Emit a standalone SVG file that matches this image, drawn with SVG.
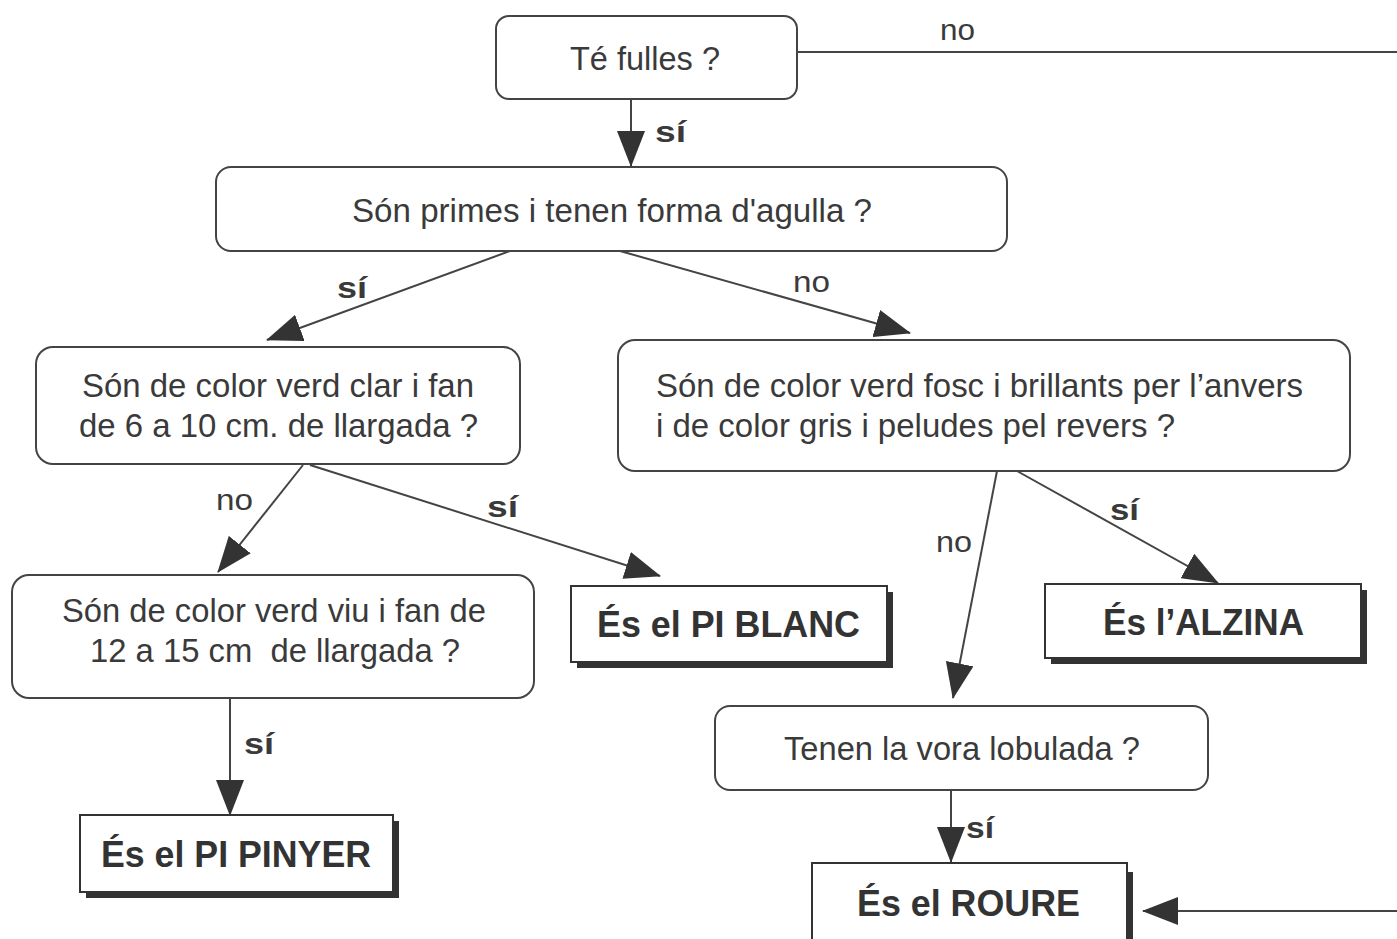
<svg xmlns="http://www.w3.org/2000/svg" width="1397" height="939" viewBox="0 0 1397 939">
<defs>
<style>
.q{fill:#fff;stroke:#444;stroke-width:2}
.a{fill:#fff;stroke:#333;stroke-width:2}
.sh{fill:#333}
.t{font-family:"Liberation Sans",Arial,sans-serif;font-size:33px;fill:#3a3a3a}
.b{font-family:"Liberation Sans",Arial,sans-serif;font-size:36px;font-weight:bold;fill:#333}
.l{font-family:"Liberation Sans",Arial,sans-serif;font-size:30px;fill:#3a3a3a}
.lb{font-family:"Liberation Sans",Arial,sans-serif;font-size:30px;font-weight:bold;fill:#3a3a3a}
.c{fill:none;stroke:#444;stroke-width:2}
</style>
<marker id="ah" viewBox="0 0 36 28" refX="35" refY="14" markerWidth="36" markerHeight="28" markerUnits="userSpaceOnUse" orient="auto">
<path d="M0,0 L36,14 L0,28 Z" fill="#333"/>
</marker>
</defs>
<rect width="1397" height="939" fill="#fff"/>

<g id="connectors">
<line class="c" x1="631" y1="99" x2="631" y2="166" marker-end="url(#ah)"/>
<line class="c" x1="797" y1="52" x2="1397" y2="52"/>
<line class="c" x1="510" y1="251" x2="267" y2="340" marker-end="url(#ah)"/>
<line class="c" x1="620" y1="251" x2="910" y2="333" marker-end="url(#ah)"/>
<line class="c" x1="303" y1="465" x2="218" y2="572" marker-end="url(#ah)"/>
<line class="c" x1="310" y1="465" x2="660" y2="576" marker-end="url(#ah)"/>
<line class="c" x1="997" y1="471" x2="953" y2="698" marker-end="url(#ah)"/>
<line class="c" x1="1017" y1="471" x2="1218" y2="583" marker-end="url(#ah)"/>
<line class="c" x1="230" y1="698" x2="230" y2="815" marker-end="url(#ah)"/>
<line class="c" x1="951" y1="790" x2="951" y2="862" marker-end="url(#ah)"/>
<line class="c" x1="1397" y1="911" x2="1143" y2="911" marker-end="url(#ah)"/>
<text class="l" x="940" y="40" textLength="35" lengthAdjust="spacingAndGlyphs">no</text>
<text class="lb" x="655" y="142" textLength="31" lengthAdjust="spacingAndGlyphs">sí</text>
<text class="lb" x="337" y="298" textLength="30" lengthAdjust="spacingAndGlyphs">sí</text>
<text class="l" x="793" y="292" textLength="37" lengthAdjust="spacingAndGlyphs">no</text>
<text class="l" x="216" y="510" textLength="37" lengthAdjust="spacingAndGlyphs">no</text>
<text class="lb" x="487" y="517" textLength="31" lengthAdjust="spacingAndGlyphs">sí</text>
<text class="l" x="936" y="552" textLength="36" lengthAdjust="spacingAndGlyphs">no</text>
<text class="lb" x="1110" y="520" textLength="29" lengthAdjust="spacingAndGlyphs">sí</text>
<text class="lb" x="244" y="754" textLength="30" lengthAdjust="spacingAndGlyphs">sí</text>
<text class="lb" x="966" y="838" textLength="28" lengthAdjust="spacingAndGlyphs">sí</text>
</g>

<g id="n-fulles">
<rect class="q" x="496" y="16" width="301" height="83" rx="13"/>
<text class="t" x="570" y="70" textLength="150" lengthAdjust="spacingAndGlyphs">Té fulles ?</text>
</g>

<g id="n-primes">
<rect class="q" x="216" y="167" width="791" height="84" rx="15"/>
<text class="t" x="352" y="222" textLength="520" lengthAdjust="spacingAndGlyphs">Són primes i tenen forma d'agulla ?</text>
</g>

<g id="n-clar">
<rect class="q" x="36" y="347" width="484" height="117" rx="17"/>
<text class="t" x="82" y="397" textLength="392" lengthAdjust="spacingAndGlyphs">Són de color verd clar i fan</text>
<text class="t" x="79" y="437" textLength="399" lengthAdjust="spacingAndGlyphs">de 6 a 10 cm. de llargada ?</text>
</g>

<g id="n-fosc">
<rect class="q" x="618" y="340" width="732" height="131" rx="17"/>
<text class="t" x="656" y="397" textLength="647" lengthAdjust="spacingAndGlyphs">Són de color verd fosc i brillants per l’anvers</text>
<text class="t" x="656" y="437" textLength="519" lengthAdjust="spacingAndGlyphs">i de color gris i peludes pel revers ?</text>
</g>

<g id="n-viu">
<rect class="q" x="12" y="575" width="522" height="123" rx="17"/>
<text class="t" x="62" y="622" textLength="424" lengthAdjust="spacingAndGlyphs">Són de color verd viu i fan de</text>
<text class="t" x="90" y="662" textLength="370" lengthAdjust="spacingAndGlyphs" xml:space="preserve">12 a 15 cm  de llargada ?</text>
</g>

<g id="n-piblanc">
<rect class="sh" x="577" y="592" width="316" height="76"/>
<rect class="a" x="571" y="586" width="316" height="76"/>
<text class="b" x="597" y="637" textLength="263" lengthAdjust="spacingAndGlyphs">És el PI BLANC</text>
</g>

<g id="n-alzina">
<rect class="sh" x="1051" y="590" width="316" height="74"/>
<rect class="a" x="1045" y="584" width="316" height="74"/>
<text class="b" x="1103" y="635" textLength="201" lengthAdjust="spacingAndGlyphs">És l’ALZINA</text>
</g>

<g id="n-lobulada">
<rect class="q" x="715" y="706" width="493" height="84" rx="15"/>
<text class="t" x="784" y="760" textLength="356" lengthAdjust="spacingAndGlyphs">Tenen la vora lobulada ?</text>
</g>

<g id="n-pinyer">
<rect class="sh" x="86" y="821" width="313" height="77"/>
<rect class="a" x="80" y="815" width="313" height="77"/>
<text class="b" x="101" y="867" textLength="270" lengthAdjust="spacingAndGlyphs">És el PI PINYER</text>
</g>

<g id="n-roure">
<rect class="sh" x="818" y="872" width="315" height="80"/>
<rect class="a" x="812" y="863" width="315" height="86"/>
<text class="b" x="857" y="916" textLength="223" lengthAdjust="spacingAndGlyphs">És el ROURE</text>
</g>
</svg>
